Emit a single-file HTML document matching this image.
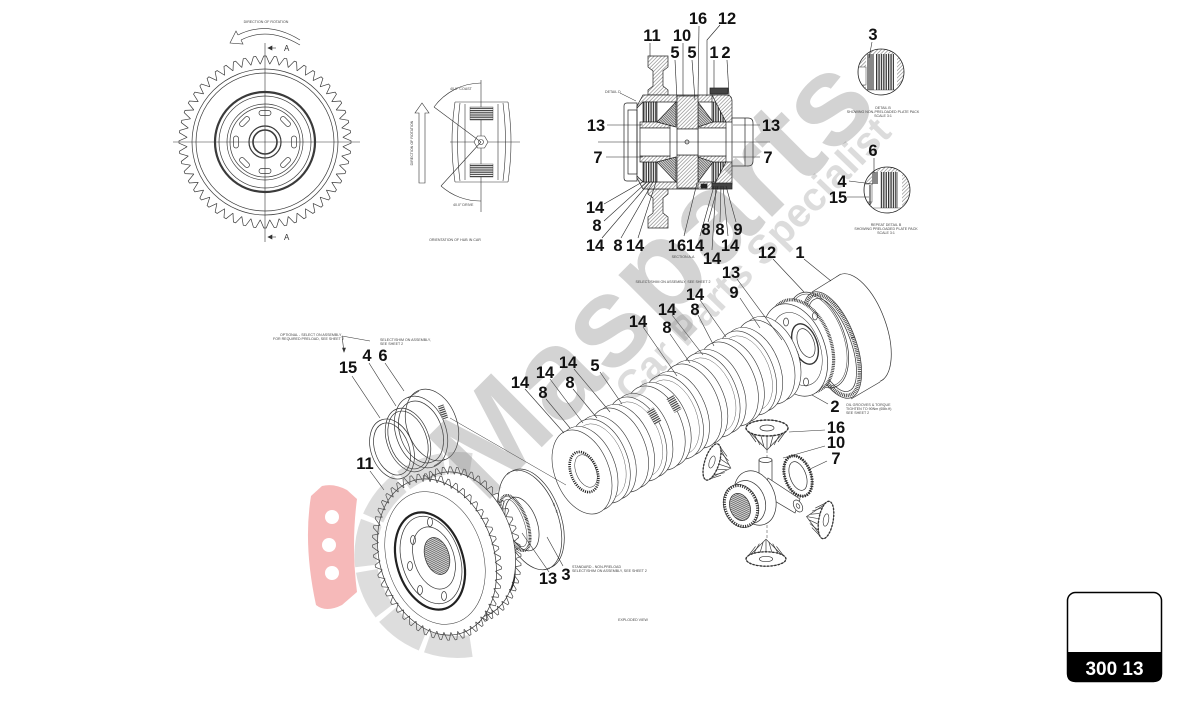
<!DOCTYPE html>
<html><head><meta charset="utf-8"><title>300 13</title>
<style>
html,body{margin:0;padding:0;background:#fff}
body{width:1188px;height:707px;overflow:hidden}
svg{display:block}
.L{font-family:"Liberation Sans",Arial,sans-serif;font-weight:bold;font-size:16.5px;fill:#111;text-anchor:middle}
.S{font-family:"Liberation Sans",Arial,sans-serif;font-size:3.6px;fill:#444}
.C{text-anchor:middle}
</style></head><body>
<svg width="1188" height="707" viewBox="0 0 1188 707" xmlns="http://www.w3.org/2000/svg">
<defs>
<pattern id="hatch" width="2.6" height="2.6" patternUnits="userSpaceOnUse" patternTransform="rotate(45)"><rect width="2.6" height="2.6" fill="#fff"/><line x1="0.5" y1="0" x2="0.5" y2="2.6" stroke="#666" stroke-width="0.5"/></pattern>
<pattern id="hd" width="1.8" height="1.8" patternUnits="userSpaceOnUse" patternTransform="rotate(-45)"><rect width="1.8" height="1.8" fill="#ddd"/><line x1="0.5" y1="0" x2="0.5" y2="1.8" stroke="#333" stroke-width="0.6"/></pattern>
<pattern id="pack" width="2.4" height="4" patternUnits="userSpaceOnUse"><rect width="2.4" height="4" fill="#fff"/><rect width="1.3" height="4" fill="#333"/></pattern>
<pattern id="hs" width="4" height="2.2" patternUnits="userSpaceOnUse"><rect width="4" height="2.2" fill="#fff"/><rect width="4" height="1.2" fill="#444"/></pattern>
<path id="tt" d="M-4.71,-77.86 L-1.2,-85.99 L1.2,-85.99 L4.71,-77.86" fill="none" vector-effect="non-scaling-stroke"/>
<g id="t4"><use href="#tt"/><use href="#tt" transform="rotate(6.923)"/><use href="#tt" transform="rotate(13.846)"/><use href="#tt" transform="rotate(20.769)"/></g>
<g id="teeth">
<use href="#t4"/>
<use href="#t4" transform="rotate(27.692)"/>
<use href="#t4" transform="rotate(55.385)"/>
<use href="#t4" transform="rotate(83.077)"/>
<use href="#t4" transform="rotate(110.769)"/>
<use href="#t4" transform="rotate(138.462)"/>
<use href="#t4" transform="rotate(166.154)"/>
<use href="#t4" transform="rotate(193.846)"/>
<use href="#t4" transform="rotate(221.538)"/>
<use href="#t4" transform="rotate(249.231)"/>
<use href="#t4" transform="rotate(276.923)"/>
<use href="#t4" transform="rotate(304.615)"/>
<use href="#t4" transform="rotate(332.308)"/>
</g>
<g id="disc">
<ellipse cx="6" cy="-3.6" rx="27" ry="44" transform="rotate(-22 6 -3.6)"/>
<ellipse cx="0" cy="0" rx="27" ry="44" transform="rotate(-22)"/>
</g>
<g id="disc2">
<ellipse cx="6" cy="-3.6" rx="27" ry="44" transform="rotate(-22 6 -3.6)"/>
<ellipse cx="0" cy="0" rx="27" ry="44" transform="rotate(-22)"/>
<ellipse cx="0" cy="0" rx="23" ry="39" transform="rotate(-22)" fill="none" stroke-width="0.35"/>
</g>
<g id="bev">
<path d="M-21,0 L0,22 L21,0 Z" fill="#fff"/>
<path d="M-19,3 L-11,14 M-13,6 L-7,17 M-6,8 L-3,19 M0,8 L0,21 M6,8 L3,19 M13,6 L7,17 M19,3 L11,14" fill="none"/>
<ellipse rx="21" ry="8" fill="#fff"/>
<ellipse rx="21" ry="8" fill="none" stroke-width="1.5" stroke-dasharray="2.2 1.6"/>
<ellipse rx="7" ry="3" fill="#fff"/>
</g>
<clipPath id="cb"><circle cx="881" cy="72" r="23"/></clipPath>
<clipPath id="cr"><circle cx="887" cy="190" r="23"/></clipPath>
</defs>

<rect width="1188" height="707" fill="#fff"/>

<!-- ============ TOP-LEFT GEAR ============ -->
<g stroke="#333" stroke-width="0.6" fill="none">
<line x1="173" y1="142" x2="360" y2="142"/>
<line x1="265" y1="43" x2="265" y2="242"/>
<path d="M300,40 Q268,20 238,35"/>
<path d="M300,45 Q268,26 241,40"/>
<path d="M238,35 L236,31 L230,43 L243,44 L241,40"/>
<line x1="276" y1="48" x2="268" y2="48"/><path d="M268,48 L272,46 L272,50 Z" fill="#333"/>
<line x1="276" y1="237" x2="268" y2="237"/><path d="M268,237 L272,235 L272,239 Z" fill="#333"/>
</g>
<g transform="translate(265,142)" fill="none" stroke="#3a3a3a" stroke-width="0.7">
<use href="#teeth"/>
<circle r="73"/><circle r="69"/>
<circle r="50" stroke-width="2.2"/>
<circle r="46"/><circle r="38"/><circle r="35"/>
<circle r="16" stroke-width="1.2"/><circle r="12" stroke-width="1.6"/>
<g>
<rect x="-6" y="-31.5" width="12" height="5" rx="2.5"/>
<rect x="-6" y="-31.5" width="12" height="5" rx="2.5" transform="rotate(45)"/>
<rect x="-6" y="-31.5" width="12" height="5" rx="2.5" transform="rotate(90)"/>
<rect x="-6" y="-31.5" width="12" height="5" rx="2.5" transform="rotate(135)"/>
<rect x="-6" y="-31.5" width="12" height="5" rx="2.5" transform="rotate(180)"/>
<rect x="-6" y="-31.5" width="12" height="5" rx="2.5" transform="rotate(225)"/>
<rect x="-6" y="-31.5" width="12" height="5" rx="2.5" transform="rotate(270)"/>
<rect x="-6" y="-31.5" width="12" height="5" rx="2.5" transform="rotate(315)"/>
</g>
</g>
<text x="284" y="51" font-family="Liberation Sans, sans-serif" font-size="8" fill="#333">A</text>
<text x="284" y="240" font-family="Liberation Sans, sans-serif" font-size="8" fill="#333">A</text>

<!-- ============ HUB ORIENTATION VIEW ============ -->
<g stroke="#333" stroke-width="0.6" fill="none">
<line x1="481" y1="80" x2="481" y2="212"/>
<line x1="450" y1="142" x2="520" y2="142"/>
<path d="M455,102 L508,102 M455,182 L508,182"/>
<path d="M455,102 Q449,142 455,182"/>
<path d="M460,103 Q455,142 460,181"/>
<path d="M465,104 L465,180"/>
<path d="M508,102 Q514,142 508,182"/>
<path d="M503,103 Q508,142 503,181"/>
<path d="M498,104 L498,180"/>
<rect x="470" y="107" width="23" height="13" fill="url(#hs)" stroke-width="0.4"/>
<rect x="470" y="164" width="23" height="13" fill="url(#hs)" stroke-width="0.4"/>
<polygon points="488,142 484.5,148 477.5,148 474,142 477.5,136 484.5,136" fill="#fff"/>
<circle cx="481" cy="142" r="2.5"/>
<line x1="481" y1="142" x2="434" y2="107"/>
<path d="M434,107 A59,59 0 0 1 481,83"/>
<line x1="481" y1="142" x2="441" y2="186"/>
<path d="M441,186 A59,59 0 0 0 481,201"/>
<path d="M419,183 L419,113 L415,113 L422,103 L429,113 L425,113 L425,183 Z"/>
</g>

<!-- ============ SECTION A-A ============ -->
<g stroke="#222" stroke-width="0.7" fill="none">
<path d="M648,56 L668,56 L668,67 L663,71 L663,86 L668,90 L668,95 L648,95 L648,90 L653,86 L653,71 L648,67 Z" fill="url(#hatch)"/>
<path d="M648,228 L668,228 L668,217 L663,213 L663,198 L668,194 L668,189 L648,189 L648,194 L653,198 L653,213 L648,217 Z" fill="url(#hatch)"/>
<path d="M624,106 Q624,103 627,103 L637,103 L637,181 L627,181 Q624,181 624,178 Z" fill="#fff"/>
<rect x="628" y="110" width="9" height="64"/>
<path d="M637,106 L643,95 L712,95 L712,102 L643,102 L637,108 Z" fill="url(#hatch)"/>
<path d="M637,178 L643,189 L712,189 L712,182 L643,182 L637,176 Z" fill="url(#hatch)"/>
<rect x="643" y="102" width="14" height="20" fill="url(#pack)"/>
<rect x="643" y="162" width="14" height="20" fill="url(#pack)"/>
<rect x="712" y="102" width="14" height="20" fill="url(#pack)"/>
<rect x="712" y="162" width="14" height="20" fill="url(#pack)"/>
<rect x="640" y="122" width="30" height="6" fill="url(#hatch)"/>
<rect x="640" y="156" width="30" height="6" fill="url(#hatch)"/>
<rect x="698" y="122" width="28" height="6" fill="url(#hatch)"/>
<rect x="698" y="156" width="28" height="6" fill="url(#hatch)"/>
<rect x="640" y="128" width="30" height="28" fill="#fff"/>
<rect x="698" y="128" width="28" height="28" fill="#fff"/>
<polygon points="657,122 676,102 676,127" fill="url(#hd)"/>
<polygon points="657,162 676,182 676,157" fill="url(#hd)"/>
<polygon points="713,122 698,102 698,127" fill="url(#hd)"/>
<polygon points="713,162 698,182 698,157" fill="url(#hd)"/>
<rect x="677" y="96" width="21" height="33" fill="url(#hatch)"/>
<rect x="677" y="155" width="21" height="33" fill="url(#hatch)"/>
<rect x="677" y="129" width="21" height="26" fill="#fff"/>
<circle cx="687" cy="142" r="2"/>
<path d="M712,95 L726,95 Q732,95 732,101 L732,122 L726,122 Z" fill="url(#hatch)"/>
<path d="M712,189 L726,189 Q732,189 732,183 L732,162 L726,162 Z" fill="url(#hatch)"/>
<path d="M732,118 L748,118 Q753,118 753,123 L753,161 Q753,166 748,166 L732,166 Z" fill="#fff"/>
<line x1="745" y1="118" x2="745" y2="166"/>
<rect x="710" y="88" width="18" height="6" fill="#444"/>
<rect x="712" y="183" width="20" height="6" fill="#444"/>
<rect x="701" y="184" width="6" height="4" fill="#222"/>
<line x1="598" y1="142" x2="770" y2="142" stroke-width="0.5"/>
<line x1="620" y1="93" x2="636" y2="101" stroke-width="0.5"/>
</g>
<!-- section leaders -->
<g stroke="#222" stroke-width="0.6" fill="none">
<line x1="650" y1="43" x2="650" y2="56"/>
<line x1="683" y1="43" x2="683" y2="96"/>
<line x1="675" y1="60" x2="677" y2="100"/>
<line x1="692" y1="60" x2="695" y2="100"/>
<line x1="699" y1="26" x2="698" y2="96"/>
<path d="M720,25 L707,40 L707,96"/>
<line x1="714" y1="60" x2="714" y2="88"/>
<line x1="727" y1="60" x2="729" y2="95"/>
<line x1="607" y1="125" x2="643" y2="125"/>
<line x1="760" y1="125" x2="733" y2="125"/>
<line x1="606" y1="157" x2="643" y2="157"/>
<line x1="760" y1="157" x2="733" y2="157"/>
<line x1="604" y1="204" x2="644" y2="181"/>
<line x1="604" y1="221" x2="647" y2="182"/>
<line x1="602" y1="238" x2="650" y2="182"/>
<line x1="621" y1="238" x2="653" y2="182"/>
<line x1="638" y1="238" x2="656" y2="182"/>
<line x1="684" y1="236" x2="697" y2="183"/>
<line x1="700" y1="236" x2="714" y2="186"/>
<line x1="712" y1="250" x2="716" y2="186"/>
<line x1="708" y1="222" x2="718" y2="186"/>
<line x1="720" y1="222" x2="721" y2="186"/>
<line x1="736" y1="222" x2="726" y2="186"/>
<line x1="728" y1="236" x2="723" y2="186"/>
</g>

<!-- ============ DETAIL CIRCLES ============ -->
<g clip-path="url(#cb)">
<rect x="856" y="47" width="50" height="50" fill="url(#hatch)"/>
<rect x="866" y="54" width="31" height="37" fill="#fff"/>
<rect x="858" y="67" width="8" height="18" fill="#fff" stroke="#333" stroke-width="0.5"/>
<rect x="867" y="54" width="7" height="37" fill="#888"/>
<rect x="876" y="54" width="18" height="37" fill="url(#pack)"/>
<rect x="866" y="90" width="31" height="5" fill="#fff" stroke="#333" stroke-width="0.4"/>
</g>
<circle cx="881" cy="72" r="23" fill="none" stroke="#222" stroke-width="0.8"/>
<g clip-path="url(#cr)">
<rect x="862" y="165" width="50" height="50" fill="url(#hatch)"/>
<rect x="872" y="172" width="30" height="37" fill="#fff"/>
<rect x="864" y="184" width="8" height="18" fill="#fff" stroke="#333" stroke-width="0.5"/>
<rect x="872" y="172" width="6" height="12" fill="#888"/>
<line x1="870" y1="185" x2="870" y2="205" stroke="#222" stroke-width="1"/>
<rect x="880" y="172" width="18" height="37" fill="url(#pack)"/>
<rect x="872" y="208" width="30" height="5" fill="#fff" stroke="#333" stroke-width="0.4"/>
</g>
<circle cx="887" cy="190" r="23" fill="none" stroke="#222" stroke-width="0.8"/>
<g stroke="#222" stroke-width="0.6">
<line x1="872" y1="42" x2="869" y2="58"/>
<line x1="874" y1="158" x2="874" y2="173"/>
<line x1="849" y1="181" x2="873" y2="184"/>
<line x1="847" y1="197" x2="869" y2="197"/>
</g>

<!-- ============ EXPLODED VIEW ============ -->
<g stroke="#333" stroke-width="0.7" fill="#fff">
<!-- drum 1 -->
<ellipse cx="860" cy="328" rx="26" ry="57" transform="rotate(-20 860 328)"/>
<polygon points="812,292 841,274 880,382 851,399" stroke="none"/>
<line x1="812" y1="292" x2="841" y2="274"/><line x1="851" y1="399" x2="880" y2="382"/>
<ellipse cx="832" cy="345" rx="24" ry="56" transform="rotate(-20 832 345)"/>
<ellipse cx="832" cy="345" rx="22" ry="53" transform="rotate(-20 832 345)" fill="none" stroke="#444" stroke-width="3.5" stroke-dasharray="0.9 0.9"/>
<ellipse cx="832" cy="345" rx="19" ry="49" transform="rotate(-20 832 345)" fill="none"/>
<!-- ring 12 -->
<ellipse cx="818" cy="340" rx="27" ry="50" transform="rotate(-20 818 340)" fill="none"/>
<ellipse cx="818" cy="340" rx="25.5" ry="48" transform="rotate(-20 818 340)" fill="none" stroke-width="0.5"/>
<!-- carrier 2 -->
<ellipse cx="801" cy="346" rx="30" ry="48" transform="rotate(-20 801 346)" stroke="#444" stroke-width="3.2" stroke-dasharray="0.9 0.8"/>
<ellipse cx="795" cy="350" rx="30" ry="48" transform="rotate(-20 795 350)"/>
<ellipse cx="797" cy="349" rx="23" ry="38" transform="rotate(-20 797 349)" fill="none" stroke-width="0.5"/>
<ellipse cx="805" cy="344" rx="12" ry="21" transform="rotate(-20 805 344)" stroke-width="1.4"/>
<ellipse cx="806" cy="343" rx="8" ry="15" transform="rotate(-20 806 343)"/>
<ellipse cx="786" cy="322" rx="2.5" ry="4" fill="none"/>
<ellipse cx="779" cy="345" rx="2.5" ry="4" fill="none"/>
<ellipse cx="783" cy="372" rx="2.5" ry="4" fill="none"/>
<ellipse cx="806" cy="382" rx="2.5" ry="4" fill="none"/>
<ellipse cx="815" cy="316" rx="2.5" ry="4" fill="none"/>
<ellipse cx="790" cy="357" rx="8" ry="18" transform="rotate(-20 790 357)" fill="none" stroke="#333" stroke-width="2.6" stroke-dasharray="0.8 0.8"/>
</g>
<!-- disc pack -->
<g stroke="#333" stroke-width="0.6" fill="#fff">
<use href="#disc" x="765" y="362"/>
<use href="#disc2" x="746.7" y="373"/>
<use href="#disc" x="728.4" y="384"/>
<use href="#disc2" x="710.1" y="395"/>
<use href="#disc" x="691.8" y="406"/>
<use href="#disc2" x="673.5" y="417"/>
<use href="#disc" x="655.2" y="428"/>
<use href="#disc2" x="636.9" y="439"/>
<use href="#disc" x="618.6" y="450"/>
<use href="#disc2" x="600.3" y="461"/>
<use href="#disc" x="582" y="472"/>
<ellipse cx="584" cy="472" rx="13" ry="21" transform="rotate(-22 584 472)" stroke="#222" stroke-width="2.6" stroke-dasharray="1.1 1.1"/>
<ellipse cx="586" cy="471" rx="10" ry="17" transform="rotate(-22 586 471)" fill="none" stroke-width="0.5"/>
<rect x="650" y="408" width="8" height="16" fill="url(#hs)" stroke="none" transform="rotate(-30 654 416)"/>
<rect x="670" y="396" width="8" height="16" fill="url(#hs)" stroke="none" transform="rotate(-30 674 404)"/>
</g>
<!-- disc 3, ring 13 -->
<g stroke="#333" stroke-width="0.7" fill="#fff">
<ellipse cx="532.5" cy="518.8" rx="28" ry="52" transform="rotate(-20 532.5 518.8)"/>
<ellipse cx="530" cy="520" rx="28" ry="52" transform="rotate(-20 530 520)"/>
<ellipse cx="530" cy="520" rx="28" ry="52" transform="rotate(-20 530 520)" fill="none" stroke="#444" stroke-width="1.6" stroke-dasharray="0.7 0.9 0.7 60"/>
<ellipse cx="522" cy="524" rx="15" ry="28" transform="rotate(-20 522 524)"/>
<ellipse cx="515" cy="523" rx="12" ry="29" transform="rotate(-20 515 523)" fill="none" stroke="#333" stroke-width="3" stroke-dasharray="0.8 0.7"/>
<ellipse cx="515" cy="523" rx="9" ry="25" transform="rotate(-20 515 523)" fill="none" stroke-width="0.5"/>
</g>
<!-- gear 11 -->
<g stroke="#333" stroke-width="0.7" fill="#fff">
<ellipse cx="487" cy="540" rx="22" ry="57" transform="rotate(-18 487 540)" stroke="#222" stroke-width="2.6"/>
<ellipse cx="461" cy="545" rx="52" ry="75" transform="rotate(-18 461 545)"/>
<g transform="translate(461,545) rotate(-18) scale(0.67,0.93)" fill="none" stroke="#444"><use href="#teeth"/></g>
<ellipse cx="437" cy="557" rx="57" ry="80" transform="rotate(-18 437 557)"/>
<g transform="translate(437,557) rotate(-18) scale(0.72,0.99)" fill="none" stroke="#444"><use href="#teeth"/></g>
<ellipse cx="435" cy="558" rx="48" ry="68" transform="rotate(-18 435 558)" fill="none" stroke-width="0.5"/>
<ellipse cx="430" cy="561" rx="33" ry="50" transform="rotate(-18 430 561)" stroke="#222" stroke-width="2.2"/>
<ellipse cx="431" cy="560" rx="29" ry="45" transform="rotate(-18 431 560)" fill="none"/>
<ellipse cx="434" cy="558" rx="20" ry="32" transform="rotate(-18 434 558)" fill="none"/>
<ellipse cx="437" cy="556" rx="12" ry="19" transform="rotate(-18 437 556)" fill="url(#hd)"/>
<ellipse cx="413" cy="540" rx="2.5" ry="4.5" fill="none"/>
<ellipse cx="410" cy="566" rx="2.5" ry="4.5" fill="none"/>
<ellipse cx="420" cy="590" rx="2.5" ry="4.5" fill="none"/>
<ellipse cx="444" cy="596" rx="2.5" ry="4.5" fill="none"/>
<ellipse cx="430" cy="522" rx="2.5" ry="4.5" fill="none"/>
</g>
<!-- rings 6,4,15 -->
<g stroke="#333" stroke-width="0.7" fill="none">
<ellipse cx="432" cy="425" rx="25" ry="37" transform="rotate(-20 432 425)"/>
<ellipse cx="421" cy="432" rx="25" ry="37" transform="rotate(-20 421 432)"/>
<ellipse cx="421" cy="432" rx="21" ry="32" transform="rotate(-20 421 432)"/>
<line x1="408" y1="398" x2="419" y2="391"/><line x1="434" y1="466" x2="445" y2="459"/>
<rect x="440" y="405" width="6" height="14" fill="url(#hs)" stroke="none" transform="rotate(-20 443 412)"/>
<ellipse cx="408" cy="440" rx="21" ry="33" transform="rotate(-20 408 440)"/>
<ellipse cx="408" cy="440" rx="18.5" ry="30" transform="rotate(-20 408 440)"/>
<ellipse cx="392" cy="449" rx="21" ry="31" transform="rotate(-20 392 449)"/>
<ellipse cx="392" cy="449" rx="17" ry="27" transform="rotate(-20 392 449)"/>
<line x1="450" y1="418" x2="566" y2="485" stroke-width="0.5"/>
</g>
<!-- bevel gear group -->
<g stroke="#333" stroke-width="0.7" fill="#fff">
<line x1="767" y1="450" x2="767" y2="540" stroke-dasharray="3 2" stroke-width="0.5"/>
<use href="#bev" transform="translate(767,428)"/>
<use href="#bev" transform="translate(712,462) rotate(-72) scale(0.9)"/>
<ellipse cx="798" cy="476" rx="13" ry="21" transform="rotate(-20 798 476)"/>
<ellipse cx="798" cy="476" rx="13" ry="21" transform="rotate(-20 798 476)" fill="none" stroke-width="3" stroke-dasharray="1.3 1.1"/>
<ellipse cx="798" cy="476" rx="8" ry="15" transform="rotate(-20 798 476)" fill="none"/>
<rect x="759" y="460" width="13" height="32"/>
<ellipse cx="765.5" cy="460" rx="6.5" ry="2.5"/>
<polygon points="768,478 800,499 795,513 763,494"/>
<ellipse cx="798" cy="506" rx="4" ry="6.5" transform="rotate(-30 798 506)"/>
<ellipse cx="798" cy="506" rx="1.5" ry="2.5" transform="rotate(-30 798 506)"/>
<ellipse cx="755" cy="498" rx="20" ry="28" transform="rotate(-20 755 498)"/>
<ellipse cx="748" cy="502" rx="17" ry="22" transform="rotate(-20 748 502)"/>
<ellipse cx="741" cy="506" rx="17" ry="22" transform="rotate(-20 741 506)"/>
<ellipse cx="741" cy="506" rx="16" ry="21" transform="rotate(-20 741 506)" fill="none" stroke-width="3" stroke-dasharray="1.2 1.2"/>
<ellipse cx="740" cy="507" rx="10" ry="14" transform="rotate(-20 740 507)" fill="url(#hd)"/>
<use href="#bev" transform="translate(826,520) rotate(100) scale(0.9)"/>
<use href="#bev" transform="translate(766,559) rotate(180) scale(0.95,0.9)"/>
</g>
<!-- exploded leaders -->
<g stroke="#333" stroke-width="0.6" fill="none">
<line x1="773" y1="259" x2="804" y2="292"/>
<line x1="804" y1="259" x2="831" y2="281"/>
<line x1="737" y1="279" x2="782" y2="340"/>
<line x1="740" y1="298" x2="760" y2="328"/>
<line x1="700" y1="300" x2="726" y2="337"/>
<line x1="698" y1="315" x2="714" y2="346"/>
<line x1="672" y1="315" x2="703" y2="355"/>
<line x1="670" y1="334" x2="690" y2="363"/>
<line x1="643" y1="327" x2="677" y2="376"/>
<line x1="574" y1="369" x2="610" y2="412"/>
<line x1="600" y1="372" x2="622" y2="404"/>
<line x1="550" y1="379" x2="583" y2="423"/>
<line x1="573" y1="389" x2="597" y2="418"/>
<line x1="525" y1="389" x2="564" y2="433"/>
<line x1="546" y1="399" x2="570" y2="428"/>
<line x1="828" y1="404" x2="812" y2="395"/>
<line x1="825" y1="430" x2="789" y2="432"/>
<line x1="825" y1="446" x2="783" y2="458"/>
<line x1="827" y1="461" x2="808" y2="470"/>
<line x1="370" y1="471" x2="384" y2="490"/>
<line x1="352" y1="376" x2="380" y2="418"/>
<line x1="369" y1="363" x2="396" y2="406"/>
<line x1="385" y1="363" x2="404" y2="391"/>
<line x1="549" y1="572" x2="522" y2="533"/>
<line x1="563" y1="566" x2="547" y2="537"/>
<path d="M342,336 L344,352 M342,336 L370,341"/>
<path d="M344,352 L342.5,348 L345.5,348 Z" fill="#333"/>
</g>

<!-- ============ WATERMARK (semi-transparent) ============ -->
<g font-family="Liberation Sans, Arial, sans-serif" font-weight="bold">
<text transform="translate(484,505) rotate(-45)" font-size="128" fill="rgba(110,110,110,0.3)">Masparts</text>
<text transform="translate(632,404) rotate(-46)" font-size="40" fill="rgba(120,120,120,0.26)">Car Parts Specialist</text>
</g>
<path d="M471,646 A92,92 0 1 1 471,464" fill="none" stroke="rgba(120,120,120,0.25)" stroke-width="22" stroke-dasharray="44 5"/>
<path d="M322,486 Q334,483 347,490 L357,499 Q351,545 357,592 L342,605 Q326,613 316,605 Q303,545 311,496 Z" fill="rgba(232,80,80,0.4)"/>
<circle cx="332" cy="517" r="7" fill="#fff"/>
<circle cx="329" cy="545" r="7" fill="#fff"/>
<circle cx="332" cy="573" r="7" fill="#fff"/>

<!-- ============ SMALL ANNOTATIONS ============ -->
<text class="S C" x="266" y="23">DIRECTION OF ROTATION</text>
<text class="S C" x="455" y="241">ORIENTATION OF HUB IN CAR</text>
<text class="S C" transform="translate(413,143) rotate(-90)">DIRECTION OF ROTATION</text>
<text class="S" x="450" y="90">40.0° COAST</text>
<text class="S" x="453" y="206">40.0° DRIVE</text>
<text class="S" x="605" y="93">DETAIL D</text>
<text class="S C" x="683" y="258">SECTION A-A</text>
<text class="S C" x="883" y="109">DETAIL B</text>
<text class="S C" x="883" y="113">SHOWING NON-PRELOADED PLATE PACK</text>
<text class="S C" x="883" y="117">SCALE 3:1</text>
<text class="S C" x="886" y="226">REPEAT DETAIL B</text>
<text class="S C" x="886" y="230">SHOWING PRELOADED PLATE PACK</text>
<text class="S C" x="886" y="234">SCALE 3:1</text>
<text class="S C" x="673" y="283">SELECT/SHIM ON ASSEMBLY, SEE SHEET 2</text>
<text class="S" x="280" y="336">OPTIONAL - SELECT ON ASSEMBLY</text>
<text class="S" x="273" y="340">FOR REQUIRED PRELOAD, SEE SHEET 2</text>
<text class="S" x="380" y="341">SELECT/SHIM ON ASSEMBLY,</text>
<text class="S" x="380" y="345">SEE SHEET 2</text>
<text class="S" x="846" y="406">OIL GROOVES &amp; TORQUE</text>
<text class="S" x="846" y="410">TIGHTEN TO 90Nm (65lb.ft)</text>
<text class="S" x="846" y="414">SEE SHEET 2</text>
<text class="S" x="572" y="568">STANDARD - NON-PRELOAD</text>
<text class="S" x="572" y="572">SELECT/SHIM ON ASSEMBLY, SEE SHEET 2</text>
<text class="S C" x="633" y="621">EXPLODED VIEW</text>

<!-- ============ LABELS ============ -->
<g class="L">
<text class="L" x="698" y="24">16</text>
<text class="L" x="727" y="24">12</text>
<text class="L" x="652" y="41">11</text>
<text class="L" x="682" y="41">10</text>
<text class="L" x="675" y="58">5</text>
<text class="L" x="692" y="58">5</text>
<text class="L" x="714" y="58">1</text>
<text class="L" x="726" y="58">2</text>
<text class="L" x="596" y="131">13</text>
<text class="L" x="771" y="131">13</text>
<text class="L" x="598" y="163">7</text>
<text class="L" x="768" y="163">7</text>
<text class="L" x="595" y="213">14</text>
<text class="L" x="597" y="231">8</text>
<text class="L" x="595" y="251">14</text>
<text class="L" x="618" y="251">8</text>
<text class="L" x="635" y="251">14</text>
<text class="L" x="677" y="251">16</text>
<text class="L" x="695" y="251">14</text>
<text class="L" x="706" y="235">8</text>
<text class="L" x="720" y="235">8</text>
<text class="L" x="738" y="235">9</text>
<text class="L" x="730" y="251">14</text>
<text class="L" x="712" y="264">14</text>
<text class="L" x="873" y="40">3</text>
<text class="L" x="873" y="156">6</text>
<text class="L" x="842" y="187">4</text>
<text class="L" x="838" y="203">15</text>
<text class="L" x="767" y="258">12</text>
<text class="L" x="800" y="258">1</text>
<text class="L" x="731" y="278">13</text>
<text class="L" x="734" y="298">9</text>
<text class="L" x="695" y="300">14</text>
<text class="L" x="695" y="315">8</text>
<text class="L" x="667" y="315">14</text>
<text class="L" x="667" y="333">8</text>
<text class="L" x="638" y="327">14</text>
<text class="L" x="568" y="368">14</text>
<text class="L" x="595" y="371">5</text>
<text class="L" x="545" y="378">14</text>
<text class="L" x="570" y="388">8</text>
<text class="L" x="520" y="388">14</text>
<text class="L" x="543" y="398">8</text>
<text class="L" x="835" y="412">2</text>
<text class="L" x="836" y="433">16</text>
<text class="L" x="836" y="448">10</text>
<text class="L" x="836" y="464">7</text>
<text class="L" x="365" y="469">11</text>
<text class="L" x="348" y="373">15</text>
<text class="L" x="367" y="361">4</text>
<text class="L" x="383" y="361">6</text>
<text class="L" x="548" y="584">13</text>
<text class="L" x="566" y="580">3</text>
</g>

<!-- ============ BADGE ============ -->
<rect x="1067.5" y="592.5" width="94" height="89" rx="8" fill="#fff" stroke="#000" stroke-width="1.5"/>
<path d="M1067,652 H1162 V674 Q1162,682 1154,682 H1075 Q1067,682 1067,674 Z" fill="#000"/>
<text x="1114.5" y="675" font-family="Liberation Sans, Arial, sans-serif" font-weight="bold" font-size="19" fill="#fff" text-anchor="middle">300 13</text>
</svg>
</body></html>
